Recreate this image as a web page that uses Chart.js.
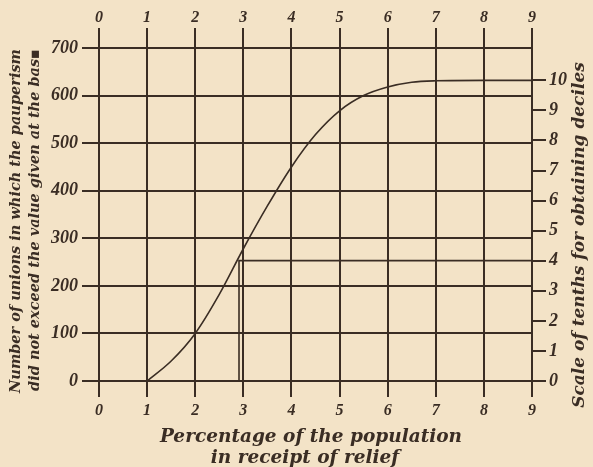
<!DOCTYPE html>
<html><head><meta charset="utf-8">
<script src="https://cdn.jsdelivr.net/npm/chart.js@4/dist/chart.umd.min.js"></script>
<style>html,body{margin:0;padding:0;background:#f3e3c7;overflow:hidden}</style>
</head><body>
<canvas id="c" width="593" height="467"></canvas>
<script>
// Data
const pctX   = [1, 1.5, 2, 2.5, 3, 3.5, 4, 4.5, 5, 5.5, 6, 6.5, 7, 8, 9];
const unions = [0, 42, 100, 182, 278, 368, 450, 518, 568, 600, 618, 628, 631, 632, 632];
const xTicks = [0, 1, 2, 3, 4, 5, 6, 7, 8, 9];
const yTicks = [0, 100, 200, 300, 400, 500, 600, 700];
const tenthTicks = [0, 1, 2, 3, 4, 5, 6, 7, 8, 9, 10];
const totalUnions = 632;
const decileX = [2.91, 2.91, 9];
const decileY = [0, 253, 253];

const xTitle = ['Percentage of the population', 'in receipt of relief'];
const yTitle = ['Number of unions in which the pauperism', 'did not exceed the value given at the bas\u25AA'];
const y2Title = 'Scale of tenths for obtaining deciles';

const ink = '#3a2d24';
const bg = '#f3e3c7';
const xTickFont = {family: 'Liberation Serif', size: 16, weight: 'bold', style: 'italic'};
const yTickFont = {family: 'Liberation Serif', size: 18, weight: 'bold', style: 'italic'};

const bgPlugin = {
  id: 'bg',
  beforeDraw(chart) {
    const c = chart.ctx;
    c.save(); c.fillStyle = bg; c.fillRect(0, 0, chart.width, chart.height); c.restore();
  }
};

const titlePlugin = {
  id: 'titles',
  afterDraw(chart) {
    const c = chart.ctx;
    c.save();
    c.fillStyle = ink;
    c.textAlign = 'center';
    c.textBaseline = 'middle';
    // bottom title
    c.font = 'italic bold 18.5px "DejaVu Serif"';
    c.fillText(xTitle[0], 311, 437);
    c.fillText(xTitle[1], 305, 458);
    // left title
    c.font = 'italic bold 14.5px "DejaVu Serif"';
    c.save(); c.translate(16, 221); c.rotate(-Math.PI / 2); c.fillText(yTitle[0], 0, 0); c.restore();
    c.save(); c.translate(35, 220); c.rotate(-Math.PI / 2); c.fillText(yTitle[1], 0, 0); c.restore();
    // right title
    c.font = 'italic bold 17px "DejaVu Serif"';
    c.save(); c.translate(580, 235); c.rotate(-Math.PI / 2); c.fillText(y2Title, 0, 0); c.restore();
    c.restore();
  }
};

new Chart(document.getElementById('c'), {
  type: 'scatter',
  data: {
    datasets: [
      {
        data: pctX.map((x, i) => ({x, y: unions[i]})),
        showLine: true, borderColor: ink, borderWidth: 1.6, pointRadius: 0,
        cubicInterpolationMode: 'monotone', xAxisID: 'x', yAxisID: 'y'
      },
      {
        data: decileX.map((x, i) => ({x, y: decileY[i]})),
        showLine: true, borderColor: ink, borderWidth: 1.6, pointRadius: 0,
        tension: 0, xAxisID: 'x', yAxisID: 'y'
      }
    ]
  },
  options: {
    responsive: false, animation: false, devicePixelRatio: 1,
    layout: {padding: 0},
    plugins: {legend: {display: false}, tooltip: {enabled: false}},
    scales: {
      x: {
        type: 'linear', position: 'bottom', min: 0, max: 9,
        afterBuildTicks: s => { s.ticks = xTicks.map(v => ({value: v})); },
        afterFit: s => { s.height = 86; },
        grid: {color: ink, lineWidth: 2, tickLength: 16, drawTicks: true},
        border: {color: ink, width: 2},
        ticks: {color: ink, font: xTickFont, padding: 4, autoSkip: false, maxRotation: 0}
      },
      x2: {
        type: 'linear', position: 'top', min: 0, max: 9, display: true,
        afterBuildTicks: s => { s.ticks = xTicks.map(v => ({value: v})); },
        afterFit: s => { s.height = 48; },
        grid: {color: ink, lineWidth: 2, tickLength: 20, drawOnChartArea: false},
        border: {color: ink, width: 2},
        ticks: {color: ink, font: xTickFont, padding: 1, autoSkip: false, maxRotation: 0}
      },
      y: {
        type: 'linear', position: 'left', min: 0, max: 700,
        afterBuildTicks: s => { s.ticks = yTicks.map(v => ({value: v})); },
        afterFit: s => { s.width = 99; },
        grid: {color: ink, lineWidth: 2, tickLength: 17},
        border: {color: ink, width: 2},
        ticks: {color: ink, font: yTickFont, padding: 4, autoSkip: false}
      },
      y2: {
        type: 'linear', position: 'right', min: 0, max: 700 / (totalUnions / 10), display: true,
        afterBuildTicks: s => { s.ticks = tenthTicks.map(v => ({value: v})); },
        afterFit: s => { s.width = 61; },
        grid: {color: ink, lineWidth: 2, tickLength: 14, drawOnChartArea: false},
        border: {color: ink, width: 2},
        ticks: {color: ink, font: yTickFont, padding: 3, autoSkip: false}
      }
    }
  },
  plugins: [bgPlugin, titlePlugin]
});
</script>
</body></html>
